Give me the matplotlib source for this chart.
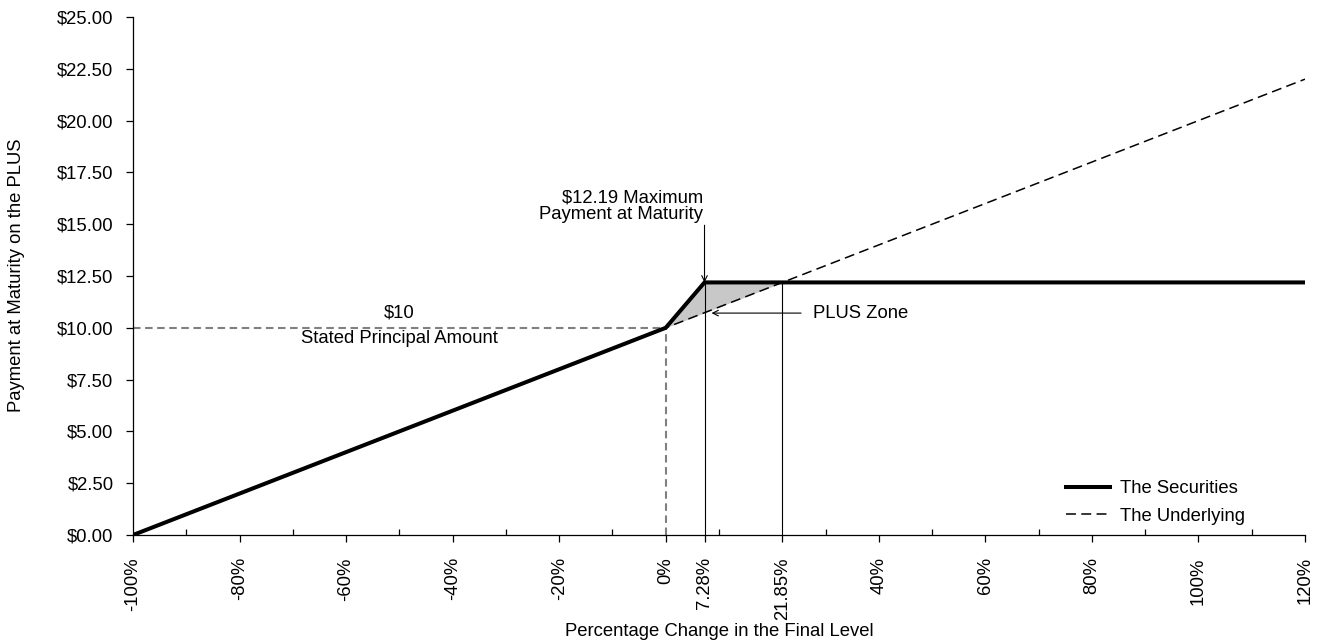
import matplotlib
matplotlib.use("Agg")
import matplotlib.pyplot as plt
import numpy as np

plt.rcParams['font.family'] = ['Liberation Sans', 'DejaVu Sans']

# Data
sec_x = [-100, 0, 7.28, 120]
sec_y = [0, 10, 12.19, 12.19]
und_x = [-100, 120]
und_y = [0, 22]
zone_x = [0, 7.28, 21.85]
zone_upper = [10, 12.19, 12.19]
zone_lower = [10, 10.728, 12.185]
major_ticks = [-100, -80, -60, -40, -20, 0, 7.28, 21.85, 40, 60, 80, 100, 120]
major_labels = ['-100%', '-80%', '-60%', '-40%', '-20%', '0%', '7.28%', '21.85%',
                '40%', '60%', '80%', '100%', '120%']
minor_ticks = [-90, -70, -50, -30, -10, 10, 30, 50, 70, 90, 110]
y_ticks = [0, 2.5, 5, 7.5, 10, 12.5, 15, 17.5, 20, 22.5, 25]
y_labels = ['$%.2f' % v for v in y_ticks]

FS = 13.3
fig = plt.figure(figsize=(13.18, 6.43), dpi=100)
ax = fig.add_axes([133/1318, 1-535/643, (1305-133)/1318, (535-17)/643])

ax.fill_between(zone_x, zone_lower, zone_upper, color='#c8c8c8', lw=0, zorder=1)
ax.plot([-100, 0], [10, 10], color='#808080', lw=1.5, dashes=(3.6, 2.2), zorder=2)
ax.plot([0, 0], [0, 10], color='#808080', lw=1.5, dashes=(3.6, 2.2), zorder=2)
ax.plot([7.28, 7.28], [0, 12.19], color='black', lw=0.8, zorder=2)
ax.plot([21.85, 21.85], [0, 12.185], color='black', lw=0.8, zorder=2)
ax.plot(und_x, und_y, color='black', lw=1.1, dashes=(6.5, 3.5), label='The Underlying', zorder=3)
ax.plot(sec_x, sec_y, color='black', lw=2.9, label='The Securities', solid_joinstyle='miter', zorder=4)

ax.set_xlim(-100, 120)
ax.set_ylim(0, 25)
ax.spines['top'].set_visible(False)
ax.spines['right'].set_visible(False)
ax.spines['left'].set_linewidth(0.9)
ax.spines['bottom'].set_linewidth(0.9)

ax.set_xticks(major_ticks)
ax.set_xticklabels(major_labels, rotation=90, fontsize=FS)
ax.set_xticks(minor_ticks, minor=True)
ax.tick_params(axis='x', which='major', direction='out', length=5, width=0.9, pad=11)
ax.tick_params(axis='x', which='minor', direction='in', length=4, width=0.9)
ax.set_yticks(y_ticks)
ax.set_yticklabels(y_labels, fontsize=FS)
ax.tick_params(axis='y', direction='out', length=5, width=0.9, pad=9)

fig.text(17/1318, 1-275/643, 'Payment at Maturity on the PLUS', rotation=90,
         ha='center', va='center', fontsize=FS)
fig.text(719/1318, 1-632/643, 'Percentage Change in the Final Level',
         ha='center', va='center', fontsize=FS)

ax.text(-50, 10.71, '$10', ha='center', va='center', fontsize=FS)
ax.text(-50, 9.46, 'Stated Principal Amount', ha='center', va='center', fontsize=FS)
ax.text(7.0, 16.25, '$12.19 Maximum', ha='right', va='center', fontsize=FS)
ax.text(7.0, 15.45, 'Payment at Maturity', ha='right', va='center', fontsize=FS)
ax.annotate('', xy=(7.28, 12.19), xytext=(7.28, 14.95),
            arrowprops=dict(arrowstyle='->', color='black', lw=0.8, shrinkA=0, shrinkB=0))
ax.annotate('', xy=(8.6, 10.71), xytext=(25.4, 10.71),
            arrowprops=dict(arrowstyle='->', color='black', lw=0.8, shrinkA=0, shrinkB=0))
ax.text(27.6, 10.71, 'PLUS Zone', ha='left', va='center', fontsize=FS)

handles, labels = ax.get_legend_handles_labels()
leg = ax.legend(handles[::-1], labels[::-1], frameon=False, fontsize=FS,
                loc='lower left', bbox_to_anchor=((1049-133)/1172, -0.012),
                handlelength=2.4, handletextpad=0.55, labelspacing=0.55)

fig.savefig('out.png', dpi=100)
